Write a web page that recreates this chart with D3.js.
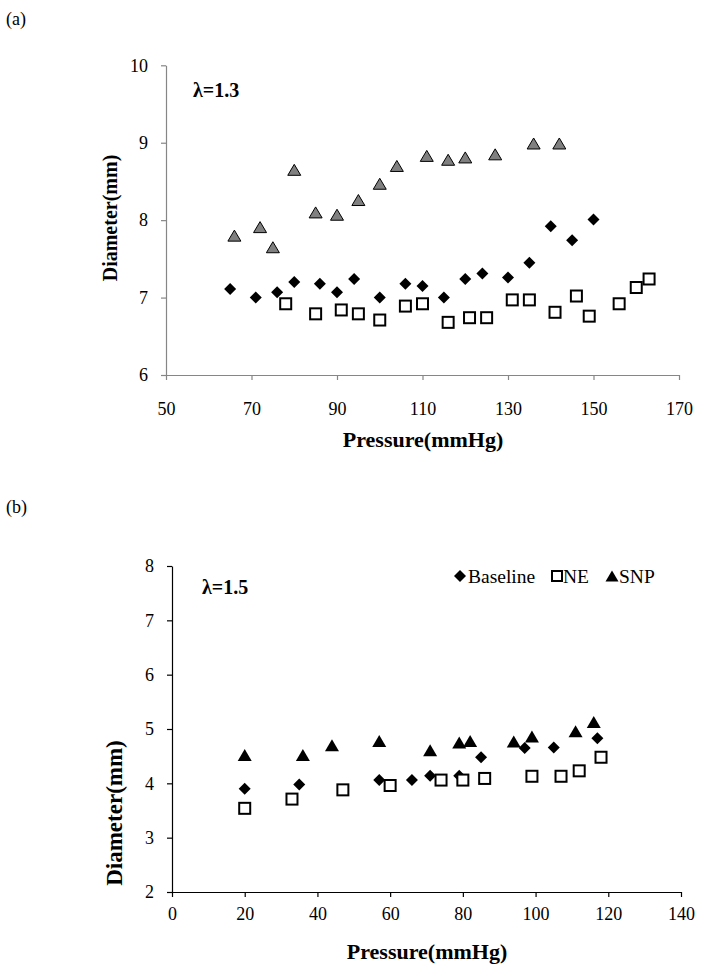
<!DOCTYPE html>
<html>
<head>
<meta charset="utf-8">
<script src="https://cdn.jsdelivr.net/npm/d3@7"></script>
<style>
  html, body { margin: 0; padding: 0; background: #fff; }
  svg { display: block; }
  svg text { font-family: "Liberation Serif", "Times New Roman", Times, "DejaVu Serif", serif; }
</style>
</head>
<body>
<svg id="chart" width="704" height="975"></svg>
<script>
// ---------- Data: panel (a), lambda = 1.3 ----------
const aTicksX = [50, 70, 90, 110, 130, 150, 170];
const aTicksY = [6, 7, 8, 9, 10];
const aBaselineP = [65, 71, 76, 80, 86, 90, 94, 100, 106, 110, 115, 120, 124, 130, 135, 140, 145, 150];
const aBaselineD = [7.11, 7.00, 7.07, 7.20, 7.18, 7.07, 7.24, 7.00, 7.18, 7.15, 7.00, 7.24, 7.31, 7.26, 7.45, 7.92, 7.74, 8.01];
const aNEP = [78, 85, 91, 95, 100, 106, 110, 116, 121, 125, 131, 135, 141, 146, 149, 156, 160, 163];
const aNED = [6.92, 6.79, 6.84, 6.79, 6.71, 6.89, 6.92, 6.68, 6.74, 6.74, 6.97, 6.97, 6.81, 7.02, 6.76, 6.92, 7.13, 7.24];
const aSNPP = [66, 72, 75, 80, 85, 90, 95, 100, 104, 111, 116, 120, 127, 136, 142];
const aSNPD = [7.80, 7.91, 7.65, 8.65, 8.10, 8.07, 8.26, 8.47, 8.70, 8.83, 8.78, 8.81, 8.85, 8.99, 8.99];

// ---------- Data: panel (b), lambda = 1.5 ----------
const bTicksX = [0, 20, 40, 60, 80, 100, 120, 140];
const bTicksY = [2, 3, 4, 5, 6, 7, 8];
const bBaselineP = [20, 35, 57, 66, 71, 79, 85, 97, 105, 117];
const bBaselineD = [3.90, 3.98, 4.06, 4.06, 4.14, 4.14, 4.48, 4.65, 4.66, 4.83];
const bNEP = [20, 33, 47, 60, 74, 80, 86, 99, 107, 112, 118];
const bNED = [3.54, 3.71, 3.88, 3.96, 4.06, 4.06, 4.09, 4.13, 4.13, 4.23, 4.48];
const bSNPP = [20, 36, 44, 57, 71, 79, 82, 94, 99, 111, 116];
const bSNPD = [4.52, 4.52, 4.70, 4.78, 4.61, 4.75, 4.78, 4.77, 4.86, 4.96, 5.13];

const legendLabels = ["Baseline", "NE", "SNP"];
const xTitle = "Pressure(mmHg)";
const yTitle = "Diameter(mm)";

const FONT = '"Liberation Serif", "Times New Roman", Times, "DejaVu Serif", serif';
const svg = d3.select("#chart");
const zip = (xs, ys) => xs.map((x, i) => ({ x, y: ys[i] }));

// marker shapes (centered on bounding box)
const diamondPath = s => `M0,${-s/2}L${s/2},0L0,${s/2}L${-s/2},0Z`;
const trianglePath = (w, h) => `M0,${-h/2}L${w/2},${h/2}L${-w/2},${h/2}Z`;

function drawPanel(cfg) {
  const x = d3.scaleLinear().domain(cfg.xDomain).range(cfg.xRange);
  const y = d3.scaleLinear().domain(cfg.yDomain).range(cfg.yRange);
  const g = svg.append("g").attr("font-family", FONT);

  // x axis
  const xa = g.append("g")
    .attr("transform", `translate(0,${cfg.yRange[0]})`)
    .call(d3.axisBottom(x).tickValues(cfg.ticksX).tickFormat(d3.format("d"))
      .tickSize(5).tickSizeOuter(0).tickPadding(cfg.xPad));
  // y axis
  const ya = g.append("g")
    .attr("transform", `translate(${cfg.xRange[0]},0)`)
    .call(d3.axisLeft(y).tickValues(cfg.ticksY).tickFormat(d3.format("d"))
      .tickSize(5).tickSizeOuter(0).tickPadding(13));
  [xa, ya].forEach(a => {
    a.attr("font-family", FONT).attr("font-size", 18);
    a.selectAll("path.domain").attr("stroke", cfg.axisColor).attr("stroke-width", 1.2);
    a.selectAll(".tick line").attr("stroke", cfg.axisColor).attr("stroke-width", 1.2);
    a.selectAll(".tick text").attr("fill", "#000");
  });

  // axis titles
  g.append("text").attr("x", cfg.xTitlePos[0]).attr("y", cfg.xTitlePos[1])
    .attr("text-anchor", "middle").attr("font-weight", "bold").attr("font-size", cfg.xTitleSize)
    .text(xTitle);
  g.append("text").attr("transform", `translate(${cfg.yTitlePos[0]},${cfg.yTitlePos[1]}) rotate(-90)`)
    .attr("text-anchor", "middle").attr("font-weight", "bold").attr("font-size", cfg.yTitleSize)
    .text(yTitle);

  // panel letter
  svg.append("text").attr("x", 6).attr("y", cfg.letterY)
    .attr("font-family", FONT).attr("font-size", 18).text(cfg.letter);

  // lambda label
  g.append("text").attr("x", cfg.lambdaPos[0]).attr("y", cfg.lambdaPos[1])
    .attr("font-weight", "bold").attr("font-size", 20).text(cfg.lambda);

  // series: Baseline (diamonds)
  g.append("g").selectAll("path").data(zip(cfg.baseP, cfg.baseD)).join("path")
    .attr("transform", d => `translate(${x(d.x)},${y(d.y)})`)
    .attr("d", diamondPath(12)).attr("fill", "#000");
  // NE (open squares)
  g.append("g").selectAll("rect").data(zip(cfg.neP, cfg.neD)).join("rect")
    .attr("x", d => x(d.x) - 5.5).attr("y", d => y(d.y) - 5.5)
    .attr("width", 11).attr("height", 11)
    .attr("fill", "#fff").attr("stroke", "#000").attr("stroke-width", 2);
  // SNP (triangles)
  g.append("g").selectAll("path").data(zip(cfg.snpP, cfg.snpD)).join("path")
    .attr("transform", d => `translate(${x(d.x)},${y(d.y)})`)
    .attr("d", trianglePath(cfg.triW, cfg.triH))
    .attr("fill", cfg.triFill).attr("stroke", "#000").attr("stroke-width", cfg.triStroke);

  return { g, x, y };
}

drawPanel({
  letter: "(a)", letterY: 25,
  xDomain: [50, 170], xRange: [166, 679],
  yDomain: [6, 10], yRange: [375, 65.3],
  ticksX: aTicksX, ticksY: aTicksY, xPad: 22,
  axisColor: "#868686",
  xTitlePos: [423, 447], xTitleSize: 22,
  yTitlePos: [117, 218], yTitleSize: 20,
  lambda: "λ=1.3", lambdaPos: [193, 97],
  baseP: aBaselineP, baseD: aBaselineD,
  neP: aNEP, neD: aNED,
  snpP: aSNPP, snpD: aSNPD,
  triW: 13, triH: 11, triFill: "#808080", triStroke: 1
});

drawPanel({
  letter: "(b)", letterY: 513,
  xDomain: [0, 140], xRange: [172, 681],
  yDomain: [2, 8], yRange: [892, 566],
  ticksX: bTicksX, ticksY: bTicksY, xPad: 10,
  axisColor: "#000",
  xTitlePos: [427, 959], xTitleSize: 22,
  yTitlePos: [122, 813], yTitleSize: 23,
  lambda: "λ=1.5", lambdaPos: [202, 594],
  baseP: bBaselineP, baseD: bBaselineD,
  neP: bNEP, neD: bNED,
  snpP: bSNPP, snpD: bSNPD,
  triW: 14, triH: 12, triFill: "#000", triStroke: 0
});

// legend for panel (b)
const leg = svg.append("g").attr("font-family", FONT).attr("font-size", 19.5);
const legItems = [
  { label: legendLabels[0], mx: 460, tx: 468, shape: "diamond" },
  { label: legendLabels[1], mx: 557, tx: 563, shape: "square" },
  { label: legendLabels[2], mx: 612, tx: 619, shape: "triangle" }
];
legItems.forEach(it => {
  const cy = 576;
  if (it.shape === "diamond") {
    leg.append("path").attr("transform", `translate(${it.mx},${cy})`).attr("d", diamondPath(12)).attr("fill", "#000");
  } else if (it.shape === "square") {
    leg.append("rect").attr("x", it.mx - 5).attr("y", cy - 5).attr("width", 10).attr("height", 10)
      .attr("fill", "#fff").attr("stroke", "#000").attr("stroke-width", 2);
  } else {
    leg.append("path").attr("transform", `translate(${it.mx},${cy})`).attr("d", trianglePath(13, 11)).attr("fill", "#000");
  }
  leg.append("text").attr("x", it.tx).attr("y", 583).text(it.label);
});
</script>
</body>
</html>
